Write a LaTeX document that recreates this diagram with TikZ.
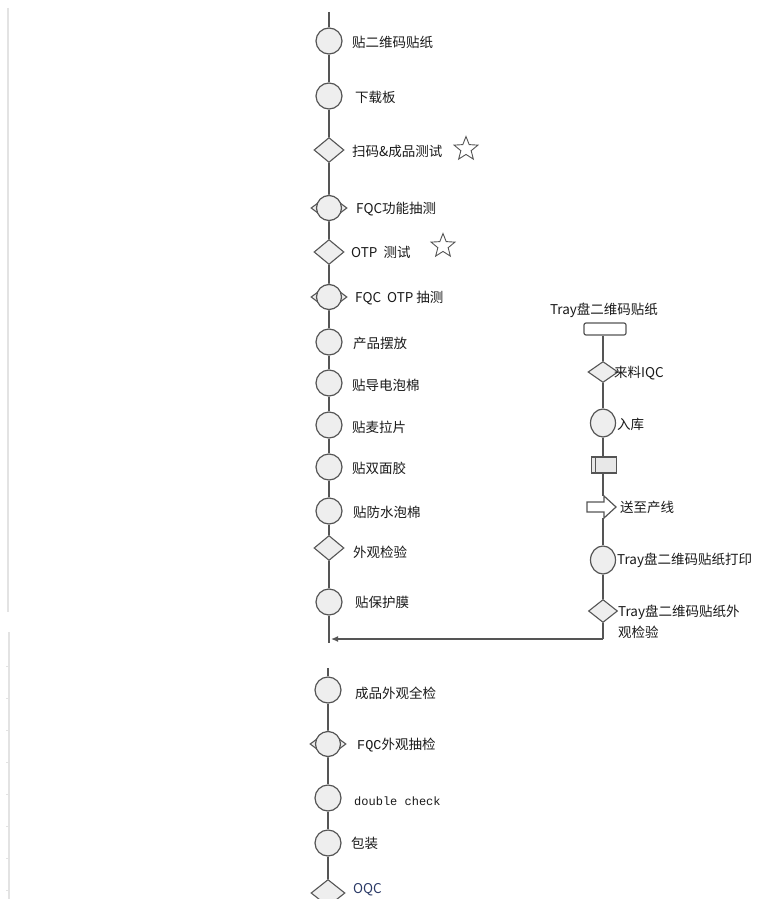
\documentclass[tikz,border=0pt]{standalone}
\usepackage{fontspec}
\setmainfont{Noto Sans CJK SC}
\newfontfamily\monof{Liberation Mono}
\usetikzlibrary{shapes.geometric,arrows.meta}
\definecolor{ln}{HTML}{555555}
\definecolor{fl}{HTML}{EEEEEE}
\definecolor{tx}{HTML}{1A1A1A}
\definecolor{oqc}{HTML}{2B3A67}
\begin{document}
\begin{tikzpicture}[x=1pt,y=-1pt,
  circ/.style={circle,draw=ln,fill=fl,line width=1.2pt,minimum size=26pt,inner sep=0},
  ell/.style={ellipse,draw=ln,fill=fl,line width=1.2pt,minimum width=25pt,minimum height=28pt,inner sep=0},
  dia/.style={diamond,draw=ln,fill=fl,line width=1.1pt,minimum width=30pt,minimum height=25pt,inner sep=0},
  cdia/.style={dia,minimum width=36pt,minimum height=27pt},
  ccirc/.style={circ,minimum size=25pt},
  lab/.style={anchor=west,text=tx,font=\fontsize{13.5}{15}\selectfont,inner sep=0},
  starn/.style={star,star points=5,star point ratio=2.3,draw=ln,line width=0.9pt,minimum size=25pt,inner sep=0},
  conn/.style={draw=ln,line width=1.3pt},
  faint/.style={draw=gray!22,line width=1.5pt}]
\useasboundingbox (0,0) rectangle (759,899);
\clip (0,0) rectangle (759,899);
\fill[white] (0,0) rectangle (759,899);
% faint left rulers
\draw[faint] (8,8) -- (8,612);
\draw[faint] (9,632) -- (9,899);
\foreach \yy in {666,698,730,762,794,826,858,890} \draw[gray!22,line width=0.8pt] (6,\yy) -- (9,\yy);

% ---- main column (upper) ----
\coordinate (top) at (329,12);
\node[circ] (a1) at (329,41) {};
\node[lab] (a1t) at (352,42) {贴二维码贴纸};
\node[circ] (a2) at (329,96) {};
\node[lab] (a2t) at (355,97) {下载板};
\node[dia] (a3) at (329,150) {};
\node[lab] (a3t) at (352,151) {扫码\&成品测试};
\node[starn] (s1) at (466,149) {};
\node[cdia] (a4d) at (329,208) {};
\node[ccirc] (a4) at (329,208) {};
\node[lab] (a4t) at (356,209) {FQC功能抽测};
\node[dia] (a5) at (329,252) {};
\node[lab] (a5t) at (351,252) {OTP\ \ 测试};
\node[starn] (s2) at (443,246) {};
\node[cdia] (a6d) at (329,297) {};
\node[ccirc] (a6) at (329,297) {};
\node[lab] (a6t) at (355,298) {FQC\ \ OTP\ 抽测};
\node[circ] (a7) at (329,342) {};
\node[lab] (a7t) at (353,343) {产品摆放};
\node[circ] (a8) at (329,383) {};
\node[lab] (a8t) at (352,385) {贴导电泡棉};
\node[circ] (a9) at (329,425) {};
\node[lab] (a9t) at (352,427) {贴麦拉片};
\node[circ] (a10) at (329,467) {};
\node[lab] (a10t) at (352,468) {贴双面胶};
\node[circ] (a11) at (329,511) {};
\node[lab] (a11t) at (353,512) {贴防水泡棉};
\node[dia] (a12) at (329,548) {};
\node[lab] (a12t) at (353,552) {外观检验};
\node[circ] (a13) at (329,602) {};
\node[lab] (a13t) at (355,602) {贴保护膜};
\coordinate (end) at (329,643);
\coordinate (join) at (331,639);

\draw[conn] (top) -- (a1) -- (a2) -- (a3) -- (a4d) -- (a5) -- (a6d) -- (a7) -- (a8) -- (a9) -- (a10) -- (a11) -- (a12) -- (a13) -- (end);

% ---- main column (lower) ----
\coordinate (btop) at (328,668);
\node[circ] (b1) at (328,690) {};
\node[lab] (b1t) at (355,693) {成品外观全检};
\node[cdia] (b2d) at (328,744) {};
\node[ccirc] (b2) at (328,744) {};
\node[lab] (b2t) at (357,745) {{\monof FQC}外观抽检};
\node[circ] (b3) at (328,798) {};
\node[lab,font=\monof\fontsize{12}{14}\selectfont] (b3t) at (354,801) {double check};
\node[circ] (b4) at (328,843) {};
\node[lab] (b4t) at (351,843) {包装};
\node[dia,minimum width=34pt,minimum height=27pt] (b5) at (328,893) {};
\node[lab,text=oqc] (b5t) at (353,890) {OQC};
\draw[conn] (btop) -- (b1) -- (b2d) -- (b3) -- (b4) -- (b5);

% ---- right column ----
\node[text=tx,font=\fontsize{13.5}{15}\selectfont,inner sep=0] (rt) at (604,310) {Tray盘二维码贴纸};
\node[rectangle,rounded corners=2pt,draw=ln,fill=white,line width=1.2pt,minimum width=42pt,minimum height=12pt,inner sep=0] (r1) at (605,329) {};
\node[dia,minimum width=30pt,minimum height=21pt] (r2) at (603,372) {};
\node[lab] (r2t) at (614,373) {来料IQC};
\node[ell] (r3) at (603,423) {};
\node[lab] (r3t) at (617,424) {入库};
\node[rectangle,draw=ln,fill=gray!18,line width=1.2pt,minimum width=25pt,minimum height=16pt,inner sep=0] (r4) at (604,465) {};
\draw[ln,line width=0.8pt] ([xshift=4pt]r4.north west) -- ([xshift=4pt]r4.south west);
% block arrow "送至产线"
\node[rectangle,minimum width=30pt,minimum height=22pt,inner sep=0] (r5) at (603,507) {};
\draw[ln,fill=white,line width=1.2pt,line join=miter] (587,502) -- (604,502) -- (604,496) -- (616,507) -- (604,518) -- (604,512) -- (587,512) -- cycle;
\node[lab] (r5t) at (620,507) {送至产线};
\node[ell] (r6) at (603,560) {};
\node[lab] (r6t) at (617,560) {Tray盘二维码贴纸打印};
\node[dia,minimum width=29pt,minimum height=23pt] (r7) at (603,611) {};
\node[lab,align=left,font=\fontsize{13.5}{21}\selectfont] (r7t) at (618,622) {Tray盘二维码贴纸外\\观检验};
\coordinate (corner) at (603,639);

\draw[conn] (r1.south -| r2.north) -- (r2) -- (r3) -- (r4.north -| r2.north);
\draw[conn] (r4.south -| r2.north) -- (r5.north);
\draw[conn] (r5.south) -- (r6) -- (r7) -- (corner);
\draw[conn,-{Latex[length=7pt,width=6pt]}] (corner) -- (join);
\end{tikzpicture}
\end{document}
